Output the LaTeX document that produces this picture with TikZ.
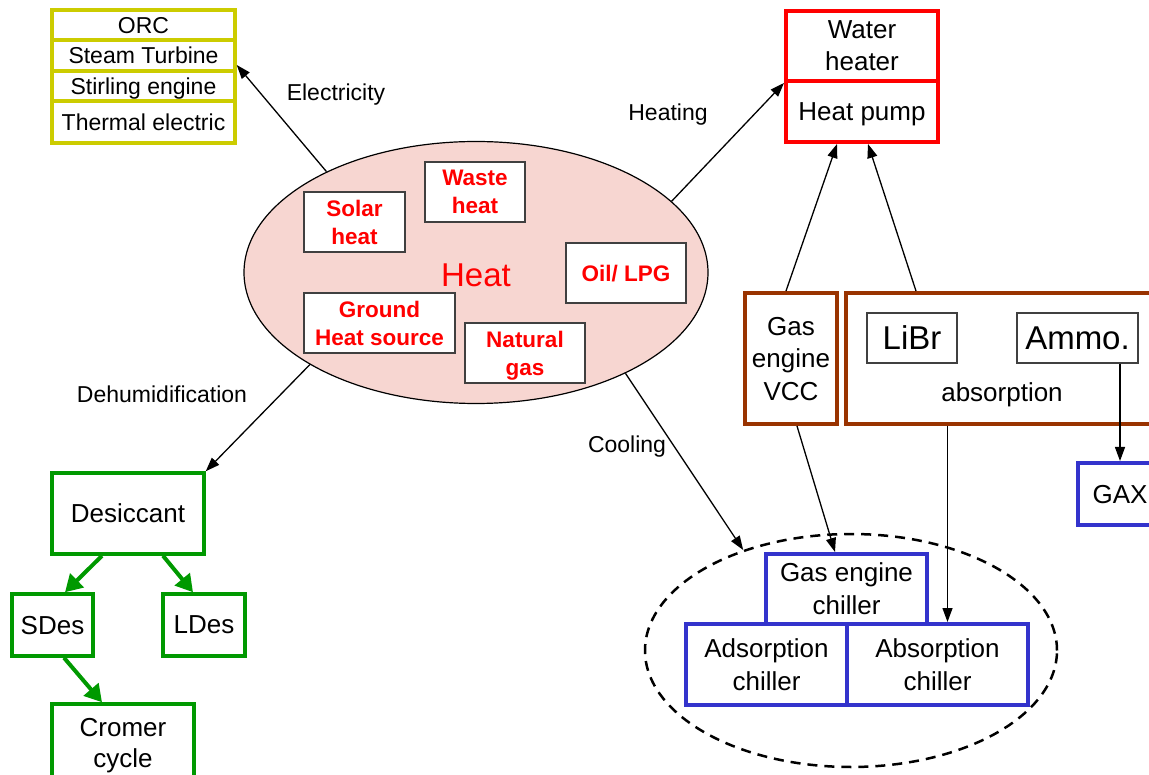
\documentclass[tikz,border=0pt]{standalone}
\usepackage{fontspec}
\setmainfont{Liberation Sans}
\usetikzlibrary{arrows.meta,shapes.geometric,calc}
\definecolor{ylw}{RGB}{204,204,0}
\definecolor{brn}{RGB}{153,51,0}
\definecolor{blu}{RGB}{51,51,204}
\definecolor{grn}{RGB}{0,153,0}
\definecolor{pinkfill}{RGB}{247,214,209}
\definecolor{boxgray}{RGB}{64,64,64}
\begin{document}
\begin{tikzpicture}[x=1pt,y=-1pt,
  base/.style={draw, rectangle, inner sep=0pt, align=center, fill=white, text depth=0pt},
  ybox/.style={base, draw=ylw, line width=3.5pt, font=\fontsize{23}{28}\selectfont},
  rbox/.style={base, draw=red, line width=4pt, font=\fontsize{26}{32}\selectfont},
  brbox/.style={base, draw=brn, line width=4pt, font=\fontsize{26}{32.5}\selectfont},
  ubox/.style={base, draw=blu, line width=4pt, font=\fontsize{26}{33}\selectfont},
  gbox/.style={base, draw=grn, line width=3.5pt, font=\fontsize{26}{31}\selectfont},
  srcbox/.style={base, draw=boxgray, line width=1.3pt, text=red, font=\fontsize{22.5}{28}\selectfont\bfseries},
  tbox/.style={base, draw=boxgray, line width=1.3pt, font=\fontsize{33}{38}\selectfont},
  lbl/.style={font=\fontsize{23}{28}\selectfont, inner sep=0pt, text depth=0pt},
  arr/.style={line width=1.3pt, -{Triangle[length=14pt,width=10pt]}},
  garr/.style={draw=grn, line width=4pt, -{Triangle[length=17pt,width=19pt]}},
]
\useasboundingbox (0,0) rectangle (1149,775);
\clip (0,0) rectangle (1149,775);

% electricity boxes
\node[ybox, minimum width=183, minimum height=30] (orc) at (143.5,25) {ORC};
\node[ybox, minimum width=183, minimum height=31] (steam) at (143.5,55.5) {Steam Turbine};
\node[ybox, minimum width=183, minimum height=30] (stirl) at (143.5,86) {Stirling engine};
\node[ybox, minimum width=183, minimum height=42] (therm) at (143.5,122) {Thermal electric};

% heating boxes
\node[rbox, minimum width=152, minimum height=70] (water) at (862,46) {Water\\heater};
\node[rbox, minimum width=152, minimum height=61] (hp) at (862,111.5) {Heat pump};

% heat ellipse
\node[ellipse, draw, line width=1.2pt, fill=pinkfill, minimum width=464, minimum height=262, inner sep=0pt] (heat) at (476,272.5) {};
\node[text=red, font=\fontsize{33}{40}\selectfont, inner sep=0pt, text depth=0pt] (heatlbl) at (476,275) {Heat};
\node[srcbox, minimum width=101, minimum height=60] (solar) at (354.5,222) {Solar\\heat};
\node[srcbox, minimum width=100, minimum height=60] (waste) at (475,192) {Waste\\heat};
\node[srcbox, minimum width=120, minimum height=60] (oil) at (626,273) {Oil/ LPG};
\node[srcbox, minimum width=151, minimum height=60] (ground) at (379.5,323) {Ground\\Heat source};
\node[srcbox, minimum width=120, minimum height=60] (natgas) at (525,353) {Natural\\gas};

% brown boxes
\node[brbox, minimum width=92, minimum height=131] (gasvcc) at (791,358.5) {Gas\\engine\\VCC};
\node[brbox, minimum width=318, minimum height=131] (absbox) at (1005,358.5) {};
\node[tbox, minimum width=90, minimum height=50] (libr) at (912,338) {LiBr};
\node[tbox, minimum width=121, minimum height=50] (ammo) at (1077.5,338) {Ammo.};
\node[font=\fontsize{26}{32}\selectfont, inner sep=0pt, text depth=0pt] (abstxt) at (1002,392) {absorption};

% GAX
\node[ubox, minimum width=84, minimum height=62] (gax) at (1120,494) {GAX};

% cooling ellipse
\node[ellipse, draw, dash pattern=on 10pt off 7pt, line width=2.5pt, minimum width=412, minimum height=233, inner sep=0pt] (coolell) at (851,650.5) {};
\node[ubox, minimum width=161, minimum height=70] (gaschill) at (846.5,589) {Gas engine\\chiller};
\node[ubox, minimum width=161, minimum height=81] (adsorp) at (766.5,664.5) {Adsorption\\chiller};
\node[ubox, minimum width=181, minimum height=81] (abschill) at (937.5,664.5) {Absorption\\chiller};

% desiccant
\node[gbox, minimum width=152, minimum height=81] (desic) at (128,513.5) {Desiccant};
\node[gbox, minimum width=81, minimum height=62] (sdes) at (52.5,625) {SDes};
\node[gbox, minimum width=82, minimum height=62] (ldes) at (204,625) {LDes};
\node[gbox, minimum width=142, minimum height=77] (cromer) at (123,742.5) {Cromer\\cycle};

% labels
\node[lbl] (lelec) at (336,92) {Electricity};
\node[lbl] (lheat) at (668,112) {Heating};
\node[lbl] (ldeh) at (162,394) {Dehumidification};
\node[lbl] (lcool) at (627,444) {Cooling};

% connectors
\draw[arr] (heat.146.3) -- ([yshift=-9.5pt]steam.east);
\draw[arr] (heat.20.6) -- (water.south west);
\draw[arr] (heat.209.6) -- (desic.north east);
\draw[arr] (heat.-34) -- (coolell.137.4);
\draw[arr] ([xshift=6pt]gasvcc.south) -- ([xshift=-11.5pt]gaschill.north);
\coordinate (absx) at ([xshift=10pt]abschill.north);
\draw[arr] (absbox.south -| absx) -- (absx);
\draw[arr] (ammo.south -| gax.north) -- (gax.north);
\draw[arr] ([xshift=-5pt]gasvcc.north) -- ([xshift=-25pt]hp.south);
\draw[arr] ([xshift=-89pt]absbox.north) -- ([xshift=6pt]hp.south);

\draw[garr] ([xshift=-26pt]desic.south) -- ([xshift=12.5pt]sdes.north);
\draw[garr] ([xshift=35pt]desic.south) -- ([xshift=-11pt]ldes.north);
\draw[garr] ([xshift=11.5pt]sdes.south) -- ([xshift=-21pt]cromer.north);
\end{tikzpicture}
\end{document}
